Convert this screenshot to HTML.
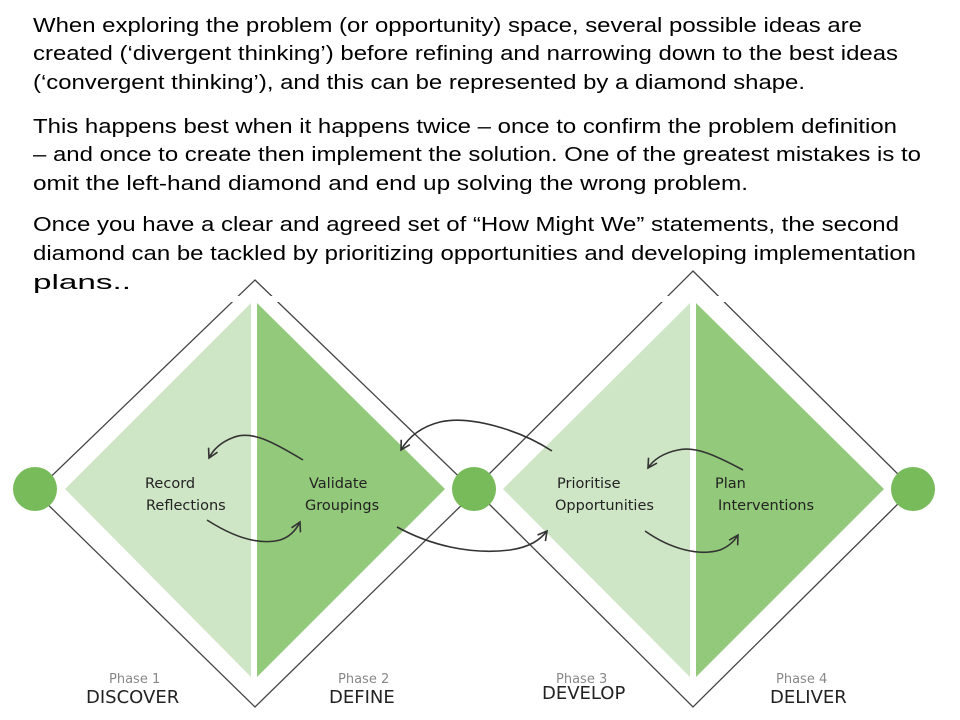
<!DOCTYPE html>
<html><head><meta charset="utf-8"><style>
html,body{margin:0;padding:0;background:#fff;width:960px;height:720px;overflow:hidden}
svg{display:block}
.t{font-family:"Liberation Sans",Arial,sans-serif;font-size:20px;fill:#000}
.l{font-family:"DejaVu Sans","Liberation Sans",sans-serif;font-size:14.5px;fill:#222}
.p{font-family:"DejaVu Sans","Liberation Sans",sans-serif;font-size:13px;fill:#888}
.ph{font-family:"DejaVu Sans","Liberation Sans",sans-serif;font-size:18px;fill:#222}
</style></head><body>
<svg width="960" height="720" viewBox="0 0 960 720" xmlns="http://www.w3.org/2000/svg">
<defs><marker id="a" markerWidth="12" markerHeight="12" refX="10" refY="6" orient="auto" markerUnits="userSpaceOnUse"><path d="M1,1 L10,6 L1,11" fill="none" stroke="#333" stroke-width="1.6"/></marker></defs>
<text class="t" x="33" y="32" textLength="829" lengthAdjust="spacingAndGlyphs">When exploring the problem (or opportunity) space, several possible ideas are</text>
<text class="t" x="33" y="60" textLength="865" lengthAdjust="spacingAndGlyphs">created (‘divergent thinking’) before refining and narrowing down to the best ideas</text>
<text class="t" x="33" y="89" textLength="772" lengthAdjust="spacingAndGlyphs">(‘convergent thinking’), and this can be represented by a diamond shape.</text>
<text class="t" x="33" y="133" textLength="864" lengthAdjust="spacingAndGlyphs">This happens best when it happens twice – once to confirm the problem definition</text>
<text class="t" x="33" y="161" textLength="888" lengthAdjust="spacingAndGlyphs">– and once to create then implement the solution. One of the greatest mistakes is to</text>
<text class="t" x="33" y="190" textLength="715" lengthAdjust="spacingAndGlyphs">omit the left-hand diamond and end up solving the wrong problem.</text>
<text class="t" x="33" y="231" textLength="866" lengthAdjust="spacingAndGlyphs">Once you have a clear and agreed set of “How Might We” statements, the second</text>
<text class="t" x="33" y="260" textLength="883" lengthAdjust="spacingAndGlyphs">diamond can be tackled by prioritizing opportunities and developing implementation</text>
<text class="t" x="33" y="289" textLength="98" lengthAdjust="spacingAndGlyphs">plans..</text>

<polygon points="255,280 475,492 255,707 35,492" fill="none" stroke="#444" stroke-width="1.3"/>
<polygon points="693,271 913,489 693,707 474,489" fill="none" stroke="#444" stroke-width="1.3"/>
<rect x="60" y="296" width="400" height="6" fill="#fff"/>
<rect x="498" y="296" width="400" height="6" fill="#fff"/>
<polygon points="65,489 251,303 251,677" fill="#cfe6c6"/>
<polygon points="257,303 445,489 257,677" fill="#93c97a"/>
<polygon points="503,489 690,303 690,677" fill="#cfe6c6"/>
<polygon points="696,303 884,489 696,677" fill="#93c97a"/>
<circle cx="35" cy="489" r="22" fill="#77bb5a"/>
<circle cx="474" cy="489" r="22" fill="#77bb5a"/>
<circle cx="913" cy="489" r="22" fill="#77bb5a"/>

<g fill="none" stroke="#333" stroke-width="1.6">
<path d="M303,460 C270,440 250,430 232,438 C222,442 214,448 209,458" marker-end="url(#a)"/>
<path d="M207,520 C235,538 260,545 280,540 C290,537 296,530 300,522" marker-end="url(#a)"/>
<path d="M552,451 C520,430 470,415 440,422 C420,427 408,438 401,450" marker-end="url(#a)"/>
<path d="M397,527 C430,545 470,555 510,550 C530,547 540,540 547,531" marker-end="url(#a)"/>
<path d="M743,470 C715,455 695,446 678,450 C663,453 653,460 648,468" marker-end="url(#a)"/>
<path d="M645,531 C672,550 700,556 720,550 C730,546 735,540 738,535" marker-end="url(#a)"/>
</g>

<text class="l" x="145" y="488">Record</text>
<text class="l" x="146" y="510">Reflections</text>
<text class="l" x="309" y="488">Validate</text>
<text class="l" x="305" y="510">Groupings</text>
<text class="l" x="557" y="488">Prioritise</text>
<text class="l" x="555" y="510">Opportunities</text>
<text class="l" x="715" y="488">Plan</text>
<text class="l" x="718" y="510">Interventions</text>

<text class="p" x="109" y="683">Phase 1</text>
<text class="ph" x="86" y="703">DISCOVER</text>
<text class="p" x="338" y="683">Phase 2</text>
<text class="ph" x="329" y="703">DEFINE</text>
<text class="p" x="556" y="683">Phase 3</text>
<text class="ph" x="542" y="699">DEVELOP</text>
<text class="p" x="776" y="683">Phase 4</text>
<text class="ph" x="770" y="703">DELIVER</text>
</svg>
</body></html>
